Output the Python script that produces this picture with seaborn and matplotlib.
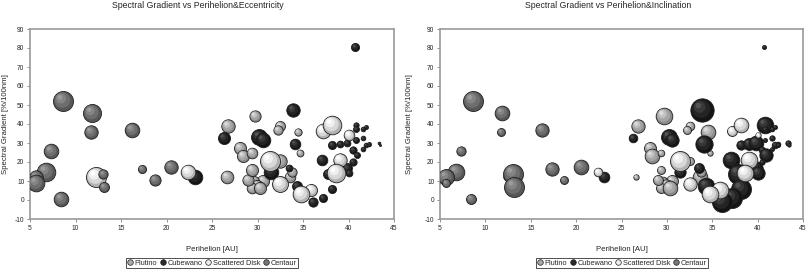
import numpy as np
import pandas as pd
import matplotlib
matplotlib.use("Agg")
import matplotlib.pyplot as plt
import seaborn as sns
from matplotlib.path import Path
from matplotlib.markers import MarkerStyle
from matplotlib.lines import Line2D

# ---- data ----
categories = ["Plutino", "Cubewano", "Scattered Disk", "Centaur"]

# perihelion [AU], spectral gradient [%/100nm], eccentricity, inclination [deg]
plutino_q = [26.6, 26.8, 29.7, 32.5, 32.2, 34.5, 34.7, 33.6, 33.8, 32.5, 30.6,
             29.6, 29.9, 29.4, 30.3, 29.0, 29.4, 28.1, 28.4, 29.4, 34.9]
plutino_g = [12.3, 39.1, 44.4, 39.0, 37.0, 36.0, 24.9, 12.3, 14.9, 20.4, 10.0,
             10.0, 7.2, 6.3, 6.4, 10.5, 15.8, 27.2, 23.3, 24.6, 2.5]
plutino_e = [0.24, 0.27, 0.19, 0.15, 0.13, 0.08, 0.07, 0.17, 0.13, 0.27, 0.22,
             0.15, 0.22, 0.17, 0.22, 0.19, 0.22, 0.22, 0.22, 0.17, 0.15]
plutino_i = [1.6, 9.8, 15.3, 4.1, 3.5, 11.9, 1.6, 11.9, 4.8, 3.5, 7.9,
             4.1, 9.8, 5.5, 11.9, 5.5, 3.5, 7.9, 11.9, 2.4, 7.9]

cubewano_q = [23.1, 26.3, 33.9, 40.7, 30.2, 30.6, 34.1, 40.8, 40.8, 41.6, 41.9,
              38.2, 39.1, 39.8, 40.8, 41.6, 41.9, 42.2, 40.5, 40.9, 40.5, 41.6,
              42.3, 43.3, 43.5, 37.1, 37.8, 39.8, 40.0, 38.2, 37.2, 36.1, 34.3,
              33.5, 31.5]
cubewano_g = [12.1, 32.6, 47.4, 80.3, 33.3, 31.6, 29.5, 39.6, 37.5, 37.5, 38.4,
              29.0, 29.5, 29.8, 31.7, 32.6, 29.0, 29.5, 26.3, 23.6, 20.2, 26.7,
              29.0, 30.0, 29.0, 21.2, 13.7, 16.7, 14.0, 5.6, 1.2, -0.9, 7.4,
              17.0, 15.0]
cubewano_e = [0.32, 0.22, 0.27, 0.10, 0.38, 0.32, 0.17, 0.043, 0.054, 0.033, 0.024,
              0.10, 0.07, 0.07, 0.054, 0.033, 0.033, 0.024, 0.08, 0.054, 0.08, 0.033,
              0.011, 0.011, 0.006, 0.17, 0.15, 0.15, 0.07, 0.10, 0.10, 0.13, 0.15,
              0.07, 0.32]
cubewano_i = [6.3, 4.1, 30.0, 0.9, 14.0, 9.8, 16.5, 15.3, 1.6, 1.2, 0.9,
              4.8, 7.9, 11.9, 0.9, 1.6, 2.4, 1.2, 2.4, 9.8, 1.6, 0.9,
              0.9, 1.6, 0.6, 15.3, 22.0, 9.8, 9.8, 22.0, 22.0, 22.0, 15.3,
              5.5, 7.1]

scattered_q = [12.25, 22.4, 37.2, 38.2, 40.0, 39.1, 38.6, 35.9, 34.8, 32.5, 31.4]
scattered_g = [12.3, 14.7, 36.1, 39.6, 34.0, 21.2, 14.2, 5.3, 3.2, 8.2, 20.3]
scattered_e = [0.60, 0.32, 0.32, 0.52, 0.17, 0.27, 0.52, 0.22, 0.42, 0.38, 0.60]
scattered_i = [1.6, 4.1, 5.5, 11.9, 1.6, 15.3, 15.3, 15.3, 15.3, 9.8, 22.0]

centaur_q = [8.66, 11.8, 11.7, 16.2, 7.3, 6.8, 5.7, 5.7, 8.4, 13.05, 13.1, 17.3,
             18.7, 20.5]
centaur_g = [52.1, 45.6, 35.8, 37.0, 25.6, 14.9, 12.3, 9.1, 0.5, 13.5, 6.7, 16.3,
             10.7, 17.4]
centaur_e = [0.60, 0.49, 0.27, 0.32, 0.32, 0.52, 0.27, 0.42, 0.32, 0.13, 0.15, 0.10,
             0.19, 0.27]
centaur_i = [22.0, 11.9, 3.5, 9.8, 4.8, 15.3, 14.0, 3.5, 5.5, 22.0, 22.0, 9.8,
             3.5, 11.9]

rows = []
for cat, q, g, e, inc in [
    ("Plutino", plutino_q, plutino_g, plutino_e, plutino_i),
    ("Cubewano", cubewano_q, cubewano_g, cubewano_e, cubewano_i),
    ("Scattered Disk", scattered_q, scattered_g, scattered_e, scattered_i),
    ("Centaur", centaur_q, centaur_g, centaur_e, centaur_i),
]:
    for k in range(len(q)):
        rows.append({"cat": cat, "q": q[k], "g": g[k], "e": e[k], "i": inc[k]})
df = pd.DataFrame(rows)

# shading: rim -> highlight
shades = {
    "Plutino": ["#8a8a8a", "#a6a6a6", "#c2c2c2", "#dedede"],
    "Cubewano": ["#141414", "#242424", "#383838", "#545454"],
    "Scattered Disk": ["#b2b2b2", "#d8d8d8", "#f0f0f0", "#ffffff"],
    "Centaur": ["#575757", "#6e6e6e", "#848484", "#9c9c9c"],
}
legend_colors = {"Plutino": "#aaaaaa", "Cubewano": "#2a2a2a",
                 "Scattered Disk": "#eeeeee", "Centaur": "#777777"}


def blob(cx, cy, r):
    # off-centre circle marker, normalised against the unit circle
    c = Path.circle((cx, cy), r)
    verts = np.vstack([[[1.0, 0.0]], c.vertices])
    codes = np.concatenate([[Path.MOVETO], c.codes])
    return MarkerStyle(Path(verts, codes))


highlights = [blob(-0.12, 0.14, 0.78), blob(-0.25, 0.30, 0.5), blob(-0.36, 0.42, 0.24)]

sns.set_style("white")
plt.rcParams["font.family"] = ["Liberation Sans", "DejaVu Sans"]

fig = plt.figure(figsize=(8.08, 2.70), dpi=100)
ax1 = fig.add_axes([30 / 808, 51 / 270, 364 / 808, 190 / 270])
ax2 = fig.add_axes([440 / 808, 51 / 270, 363 / 808, 190 / 270])


def draw_panel(ax, col, scale, title, title_x, ylab_x):
    z = 2.0
    for _, r in df.iterrows():
        s = r[col] * scale
        cols = shades[r["cat"]]
        sns.scatterplot(x=[r["q"]], y=[r["g"]], s=s, color=cols[0],
                        edgecolor="#1e1e1e", linewidth=0.6, ax=ax,
                        zorder=z, legend=False)
        for n, m in enumerate(highlights):
            ax.scatter([r["q"]], [r["g"]], s=s, marker=m, color=cols[n + 1],
                       linewidths=0, zorder=z + 0.001 * (n + 1))
        z += 0.01
    ax.set_xlim(5, 45)
    ax.set_ylim(-10, 90)
    ax.set_xticks(range(5, 46, 5))
    ax.set_yticks(range(-10, 91, 10))
    ax.set_yticklabels(["-10"] + [str(v) for v in range(0, 91, 10)])
    ax.tick_params(labelsize=4.8, length=2, width=0.6, color="#808080",
                   pad=2, direction="out", left=True, bottom=True)
    for sp in ax.spines.values():
        sp.set_color("#9a9a9a")
        sp.set_linewidth(1.2)
    ax.set_xlabel("Perihelion [AU]", fontsize=5.6)
    ax.set_ylabel("Spectral Gradient [%/100nm]", fontsize=5.6)
    ax.xaxis.set_label_coords(0.5, -0.142)
    ax.yaxis.set_label_coords(ylab_x, 0.5)
    fig.text(title_x, 1 - 5 / 270, title, fontsize=6.3, ha="center", va="center")


draw_panel(ax1, "e", 345.6, "Spectral Gradient vs Perihelion&Eccentricity", 198 / 808, -0.058)
draw_panel(ax2, "i", 9.4, "Spectral Gradient vs Perihelion&Inclination", 608 / 808, -0.075)

handles = [Line2D([], [], marker="o", linestyle="none", markersize=4,
                  markerfacecolor=legend_colors[c], markeredgecolor="#1e1e1e",
                  markeredgewidth=0.5) for c in categories]
for cx in [212 / 808, 622 / 808]:
    fig.legend(handles, categories, loc="center", bbox_to_anchor=(cx, 1 - 263 / 270),
               ncol=4, fontsize=5.3, frameon=True, fancybox=False, edgecolor="black",
               handlelength=0.8, handletextpad=0.2, columnspacing=0.4,
               borderpad=0.25, borderaxespad=0).get_frame().set_linewidth(0.6)

fig.savefig("out.png", dpi=100)
